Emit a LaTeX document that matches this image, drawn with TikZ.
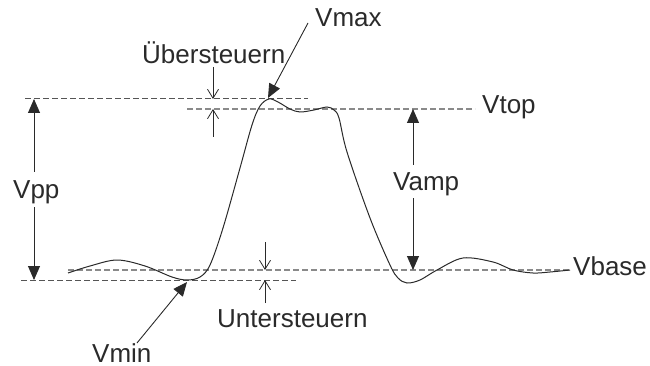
\documentclass[tikz,border=0pt]{standalone}
\usepackage{fontspec}
\setmainfont{Liberation Sans}
\usetikzlibrary{arrows.meta}
\definecolor{ink}{HTML}{2A2A2A}
\definecolor{dgray}{HTML}{8A8A8A}
\definecolor{mgray}{HTML}{555555}
\begin{document}
\begin{tikzpicture}[x=1pt,y=-1pt,
  lbl/.style={font=\fontsize{26}{30}\selectfont, text=ink, inner sep=0pt, anchor=base west},
  blackdash/.style={draw=mgray, line width=1pt, dash pattern=on 6pt off 3pt},
  graydash/.style={draw=dgray, line width=1.1pt, dash pattern=on 6pt off 3pt},
  bigarrow/.style={draw=ink, line width=0.9pt, -{Triangle[length=14pt,width=12pt]}},
  smallarrow/.style={draw=ink, line width=0.8pt, -{Straight Barb[length=9pt,width=11pt]}},
  wave/.style={draw=ink, line width=1pt}]
\useasboundingbox (0,0) rectangle (650,366);

% reference levels
\coordinate (maxL) at (25,99);   \coordinate (maxR) at (308,99);
\coordinate (topL) at (187,109); \coordinate (topR) at (475,109);
\coordinate (baseL) at (68,270); \coordinate (baseR) at (570,270);
\coordinate (minL) at (21,280);  \coordinate (minR) at (296,280);
\draw[blackdash] (maxL) -- (maxR);
\draw[graydash] (topL) -- (topR);
\draw[graydash] (baseL) -- (baseR);
\draw[blackdash] (minL) -- (minR);

% waveform
\draw[wave] plot[smooth, tension=0.55] coordinates {
 (68,273) (90,266) (117,260) (145,266) (172,277) (187,280) (200,277)
 (210,265) (223,228) (240,168) (252,125) (260,106) (269,99)
 (278,102) (290,109) (300,112) (314,110) (327,107) (334,110) (339,118)
 (347,152) (370,218) (390,265) (398,278) (407,283) (420,280) (437,270)
 (463,258) (493,262) (513,270) (533,273) (550,272) (570,270)};

% labels
\node[lbl] (ueber) at (142,64) {Übersteuern};
\node[lbl] (vmax) at (315,27) {Vmax};
\node[lbl] (vtop) at (482,114) {Vtop};
\node[lbl] (vamp) at (393,190) {Vamp};
\node[lbl] (vpp) at (13,198) {Vpp};
\node[lbl] (vbase) at (573,275) {Vbase};
\node[lbl] (unter) at (217,327) {Untersteuern};
\node[lbl] (vmin) at (92,362) {Vmin};

% Vpp arrows
\coordinate (vppA) at (34,172); \coordinate (vppTip1) at (34,99);
\coordinate (vppB) at (34,207); \coordinate (vppTip2) at (34,280);
\draw[bigarrow] (vppA) -- (vppTip1);
\draw[bigarrow] (vppB) -- (vppTip2);

% Vamp arrows
\coordinate (vampA) at (413,165); \coordinate (vampTip1) at (413,109);
\coordinate (vampB) at (413,198); \coordinate (vampTip2) at (413,270);
\draw[bigarrow] (vampA) -- (vampTip1);
\draw[bigarrow] (vampB) -- (vampTip2);

% Vmax / Vmin pointers
\coordinate (vmaxS) at (308,23); \coordinate (vmaxTip) at (268,98);
\coordinate (vminS) at (137,343); \coordinate (vminTip) at (187,282);
\draw[bigarrow] (vmaxS) -- (vmaxTip);
\draw[bigarrow] (vminS) -- (vminTip);

% overshoot arrows
\coordinate (ovA) at (213,67);  \coordinate (ovTip1) at (213,99);
\coordinate (ovB) at (213,137); \coordinate (ovTip2) at (213,109);
\draw[smallarrow] (ovA) -- (ovTip1);
\draw[smallarrow] (ovB) -- (ovTip2);

% undershoot arrows
\coordinate (unA) at (265,242); \coordinate (unTip1) at (265,270);
\coordinate (unB) at (265,303); \coordinate (unTip2) at (265,280);
\draw[smallarrow] (unA) -- (unTip1);
\draw[smallarrow] (unB) -- (unTip2);
\end{tikzpicture}
\end{document}
